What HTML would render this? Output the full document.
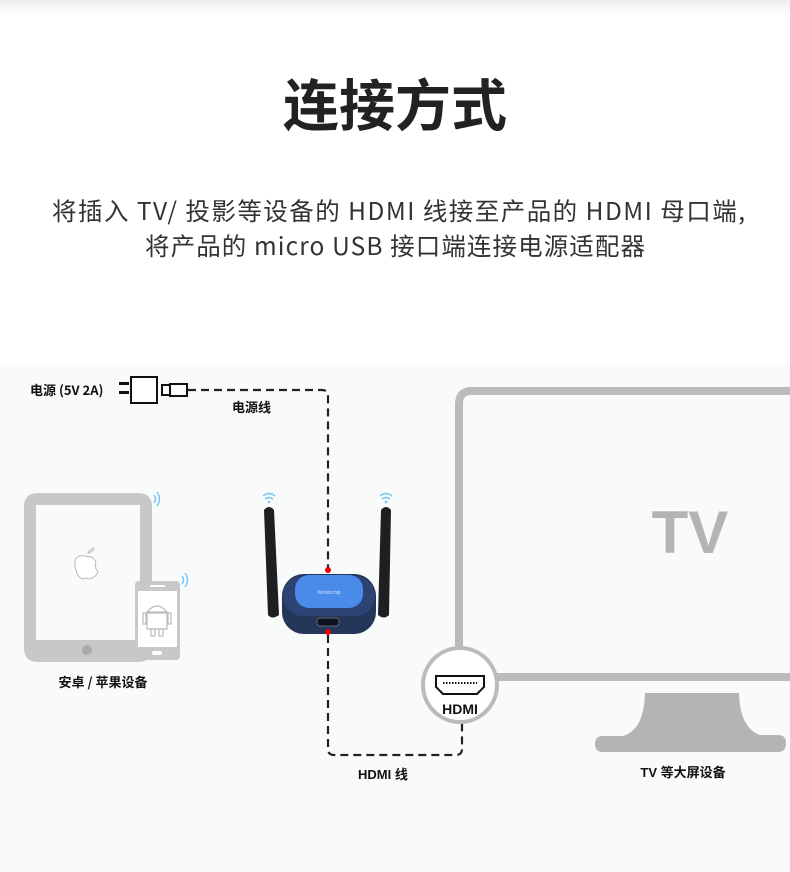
<!DOCTYPE html>
<html><head><meta charset="utf-8"><style>
body{margin:0;width:790px;height:872px;overflow:hidden;background:#fff;font-family:"Liberation Sans","Noto Sans CJK SC",sans-serif}
</style></head><body>
<svg width="790" height="872" xmlns="http://www.w3.org/2000/svg" style="display:block">
<defs><linearGradient id="tg" x1="0" y1="0" x2="0" y2="1"><stop offset="0" stop-color="#ececec"/><stop offset="1" stop-color="#fff"/></linearGradient></defs>
<rect x="0" y="0" width="790" height="872" fill="#fff"/>
<rect x="0" y="0" width="790" height="14" fill="url(#tg)"/>
<rect x="0" y="365" width="790" height="507" fill="#f9fafa"/>
<text x="395" y="126" text-anchor="middle" font-family="Noto Sans CJK SC,sans-serif" font-weight="bold" font-size="56" fill="#222">连接方式</text>
<text x="52" y="220" textLength="693" lengthAdjust="spacing" font-family="Noto Sans CJK SC,sans-serif" font-size="24.5" fill="#333">将插入 TV/ 投影等设备的 HDMI 线接至产品的 HDMI 母口端,</text>
<text x="145" y="255" textLength="500" lengthAdjust="spacing" font-family="Noto Sans CJK SC,sans-serif" font-size="24.5" fill="#333">将产品的 micro USB 接口端连接电源适配器</text>

<!-- power -->
<text x="30" y="395" font-family="Noto Sans CJK SC,sans-serif" font-weight="bold" font-size="13" fill="#111">电源 (5V 2A)</text>
<rect x="119" y="382" width="10" height="3" fill="#111"/><rect x="119" y="391" width="10" height="3" fill="#111"/>
<rect x="131" y="377" width="26" height="26" fill="#fff" stroke="#111" stroke-width="2"/>
<rect x="162" y="385" width="8" height="10" fill="#fff" stroke="#111" stroke-width="2"/>
<rect x="170" y="384" width="17" height="12" fill="#fff" stroke="#111" stroke-width="2"/>
<path d="M188 390 H322 Q328 390 328 396 V568" fill="none" stroke="#222" stroke-width="2.2" stroke-dasharray="8 5"/>
<text x="232" y="412" font-family="Noto Sans CJK SC,sans-serif" font-weight="bold" font-size="13" fill="#111">电源线</text>

<!-- tablet -->
<path fill-rule="evenodd" fill="#c8c8c8" d="M38 493 H138 Q152 493 152 507 V648 Q152 662 138 662 H38 Q24 662 24 648 V507 Q24 493 38 493Z M36 505 V640 H140 V505Z"/>
<circle cx="87" cy="650" r="5" fill="#aaa"/>
<path d="M88 553 Q90 549 94 548 Q93 552 88 553Z M80 556 Q74 557 75 566 Q77 578 83 579 Q86 577 89 579 Q95 578 98 572 Q94 568 96 562 Q92 555 88 557 Q84 555 80 556Z" fill="#fff" stroke="#bbb" stroke-width="1"/>
<!-- phone -->
<rect x="135" y="581" width="45" height="79" rx="4" fill="#c8c8c8"/>
<rect x="138" y="591" width="39" height="56" fill="#fff"/>
<rect x="150" y="585" width="15" height="2" fill="#fff"/>
<rect x="152" y="651" width="10" height="4" rx="2" fill="#fff"/>
<g fill="none" stroke="#bbb" stroke-width="1.2"><path d="M147 612 Q157 600 167 612Z"/><rect x="147" y="613" width="20" height="16"/><rect x="143" y="613" width="3" height="11"/><rect x="168" y="613" width="3" height="11"/><rect x="151" y="629" width="4" height="7"/><rect x="159" y="629" width="4" height="7"/></g>
<g fill="none" stroke="#6fc8f5" stroke-width="1.4"><path d="M154 495 q3 4 0 8"/><path d="M157 492 q5 7 0 14"/><path d="M182 576 q3 4 0 8"/><path d="M185 573 q5 7 0 14"/></g>
<text x="103" y="687" text-anchor="middle" font-family="Noto Sans CJK SC,sans-serif" font-weight="bold" font-size="13" fill="#111">安卓 / 苹果设备</text>

<!-- device -->
<g fill="none" stroke="#6fc8f5" stroke-width="1.5"><path d="M263 496 q6 -5 12 0"/><path d="M265 499 q4 -3 8 0"/><path d="M380 496 q6 -5 12 0"/><path d="M382 499 q4 -3 8 0"/></g>
<circle cx="269" cy="502" r="1.3" fill="#6fc8f5"/><circle cx="386" cy="502" r="1.3" fill="#6fc8f5"/>
<path d="M264 510 Q269 504 274 510 L279 615 Q272 620 268 615Z" fill="#1e1f22"/>
<path d="M381 510 Q386 504 391 510 L389 615 Q384 620 378 615Z" fill="#1e1f22"/>
<rect x="282" y="574" width="94" height="60" rx="22" fill="#24365a"/>
<rect x="283" y="576" width="92" height="40" rx="20" fill="#2c4374"/>
<rect x="295" y="575" width="68" height="33" rx="14" fill="#4a8ae8"/>
<text x="329" y="594" text-anchor="middle" font-size="5" fill="#cfe0ff">Wonlochip</text>
<rect x="317" y="618" width="22" height="8" rx="3" fill="#0e1320" stroke="#666" stroke-width="1"/>
<circle cx="328" cy="570" r="3" fill="#e00"/>
<circle cx="328" cy="632" r="3" fill="#e00"/>
<path d="M328 635 V749 Q328 755 334 755 H456 Q462 755 462 749 V724" fill="none" stroke="#222" stroke-width="2.2" stroke-dasharray="8 5"/>
<text x="358" y="779" font-family="Liberation Sans,Noto Sans CJK SC,sans-serif" font-weight="bold" font-size="13" fill="#111">HDMI 线</text>

<!-- TV -->
<path d="M459 672 V404 Q459 391 472 391 H800" fill="none" stroke="#bbb" stroke-width="8"/>
<rect x="459" y="673" width="340" height="8" fill="#bbb"/>
<path d="M645 693 H739 Q740 728 760 735 H778 Q786 735 786 743 Q786 752 778 752 H603 Q595 752 595 744 Q595 736 603 736 H623 Q644 730 645 693Z" fill="#b4b4b4"/>
<text x="690" y="553" text-anchor="middle" font-family="Liberation Sans,sans-serif" font-weight="bold" font-size="60" fill="#b4b4b4">TV</text>
<text x="683" y="777" text-anchor="middle" font-family="Liberation Sans,Noto Sans CJK SC,sans-serif" font-weight="bold" font-size="13" fill="#111">TV 等大屏设备</text>
<circle cx="460" cy="685" r="37" fill="#fff" stroke="#bbb" stroke-width="4"/>
<path d="M436 676 H484 V687 L477 694 H443 L436 687Z" fill="#fff" stroke="#111" stroke-width="2"/>
<line x1="443" y1="683" x2="477" y2="683" stroke="#111" stroke-width="2" stroke-dasharray="1.5 1.5"/>
<text x="460" y="714" text-anchor="middle" font-family="Liberation Sans,sans-serif" font-weight="bold" font-size="14" fill="#111">HDMI</text>
</svg>
</body></html>
